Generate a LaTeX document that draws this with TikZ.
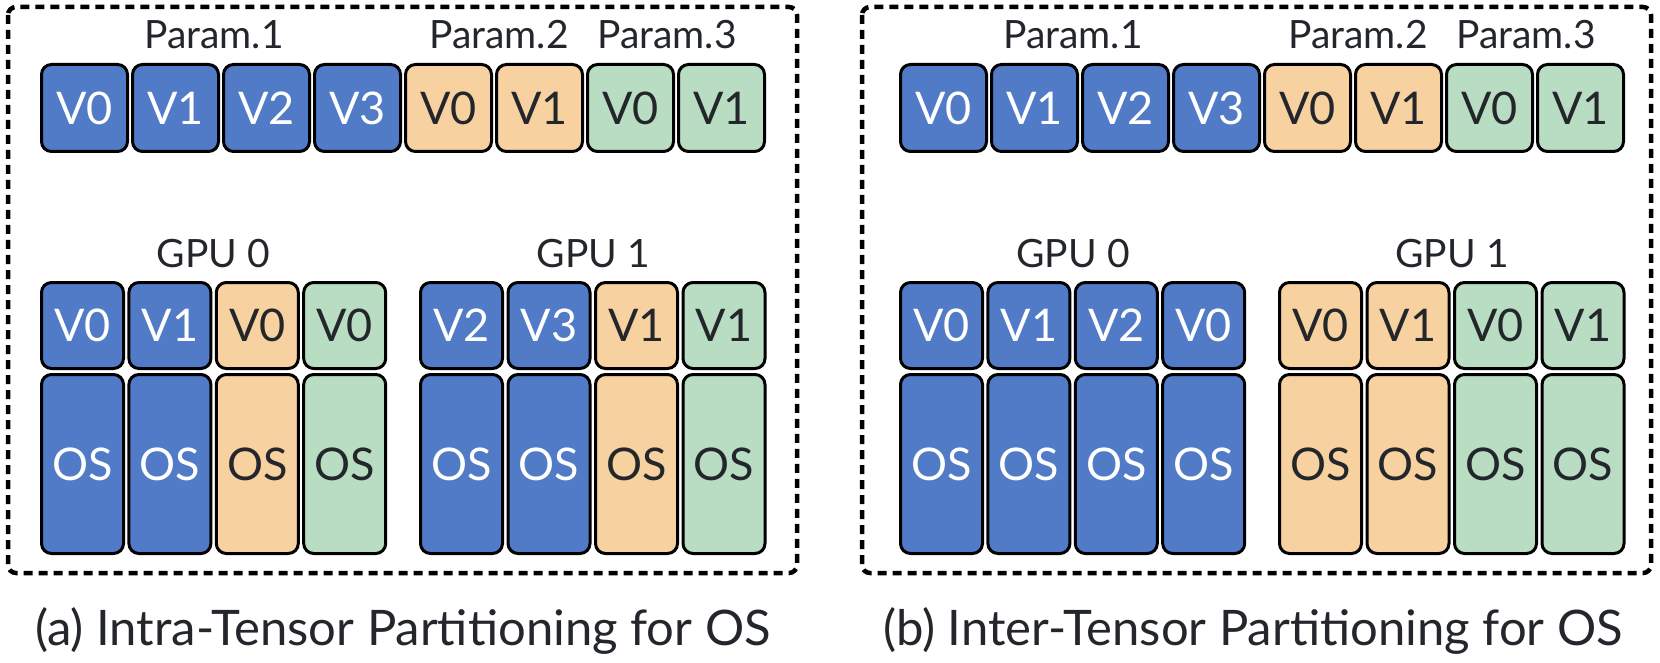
\documentclass[tikz,border=0pt]{standalone}
\usepackage{fontspec}
\setmainfont{Lato}
\definecolor{cblue}{HTML}{517BC7}
\definecolor{corange}{HTML}{F8D1A0}
\definecolor{cgreen}{HTML}{B9DDC3}
\definecolor{ctext}{HTML}{23262B}
\begin{document}
\begin{tikzpicture}[x=1pt,y=-1pt,
  cell/.style={draw=black, line width=3pt, rounded corners=10pt, inner sep=0pt, font=\fontsize{45}{45}\selectfont},
  topcell/.style={cell, minimum width=86pt, minimum height=87pt},
  vcell/.style={cell, minimum width=82pt, minimum height=86pt},
  oscell/.style={cell, minimum width=82pt, minimum height=179pt},
  B/.style={fill=cblue, text=white},
  O/.style={fill=corange, text=ctext},
  G/.style={fill=cgreen, text=ctext},
  lbl/.style={font=\fontsize{39}{39}\selectfont, text=ctext, anchor=base, inner sep=0pt},
  captext/.style={font=\fontsize{49}{49}\selectfont, text=ctext, anchor=base, inner sep=0pt},
  framebox/.style={draw=black, line width=4.5pt, dash pattern=on 9pt off 6pt, rounded corners=8pt}
]
\useasboundingbox (0,0) rectangle (1660,663);

% frames
\draw[framebox] (8,7) rectangle (797,573);
\draw[framebox] (862,7) rectangle (1651,573);

% ---------- panel a ----------
\foreach \i/\c/\t in {0/B/V0,1/B/V1,2/B/V2,3/B/V3,4/O/V0,5/O/V1,6/G/V0,7/G/V1}
  \node[topcell,\c] (a-t\i) at ({84.5+91*\i},108) {\t};
\node[lbl] (a-p1) at (214,49) {Param.1};
\node[lbl] (a-p2) at (499,49) {Param.2};
\node[lbl] (a-p3) at (667,49) {Param.3};

\node[lbl] (a-g0) at (213.5,267) {GPU 0};
\node[lbl] (a-g1) at (593.5,267) {GPU 1};
\foreach \i/\c/\t in {0/B/V0,1/B/V1,2/O/V0,3/G/V0}{
  \node[vcell,\c] (a-g0v\i) at ({82.5+87.4*\i},325.5) {\t};
  \node[oscell,\c] (a-g0o\i) at ({82.5+87.4*\i},464) {OS};
}
\foreach \i/\c/\t in {0/B/V2,1/B/V3,2/O/V1,3/G/V1}{
  \node[vcell,\c] (a-g1v\i) at ({461.5+87.5*\i},325.5) {\t};
  \node[oscell,\c] (a-g1o\i) at ({461.5+87.5*\i},464) {OS};
}
\node[captext] (a-cap) at (403,645) {(a) Intra-Tensor Partitioning for OS};

% ---------- panel b ----------
\foreach \i/\c/\t in {0/B/V0,1/B/V1,2/B/V2,3/B/V3,4/O/V0,5/O/V1,6/G/V0,7/G/V1}
  \node[topcell,\c] (b-t\i) at ({943.5+91*\i},108) {\t};
\node[lbl] (b-p1) at (1073,49) {Param.1};
\node[lbl] (b-p2) at (1358,49) {Param.2};
\node[lbl] (b-p3) at (1526,49) {Param.3};

\node[lbl] (b-g0) at (1073,267) {GPU 0};
\node[lbl] (b-g1) at (1452,267) {GPU 1};
\foreach \i/\c/\t in {0/B/V0,1/B/V1,2/B/V2,3/B/V0}{
  \node[vcell,\c] (b-g0v\i) at ({941.5+87.4*\i},325.5) {\t};
  \node[oscell,\c] (b-g0o\i) at ({941.5+87.4*\i},464) {OS};
}
\foreach \i/\c/\t in {0/O/V0,1/O/V1,2/G/V0,3/G/V1}{
  \node[vcell,\c] (b-g1v\i) at ({1320.5+87.5*\i},325.5) {\t};
  \node[oscell,\c] (b-g1o\i) at ({1320.5+87.5*\i},464) {OS};
}
\node[captext] (b-cap) at (1253,645) {(b) Inter-Tensor Partitioning for OS};
\end{tikzpicture}
\end{document}
